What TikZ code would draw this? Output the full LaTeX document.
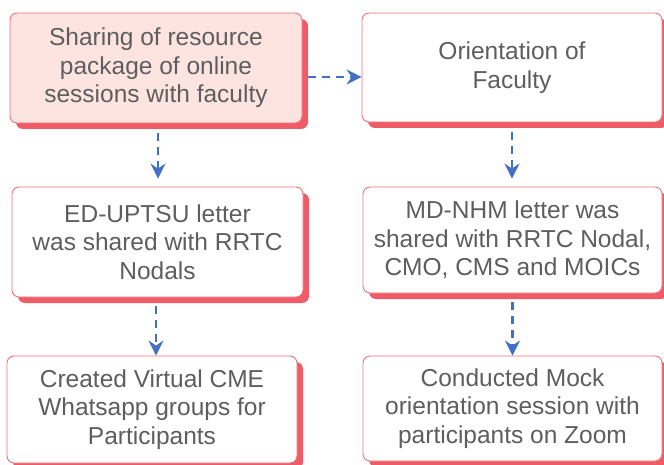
\documentclass[tikz,border=0pt]{standalone}
\usepackage{fontspec}
\setmainfont{Liberation Sans}
\usetikzlibrary{shadows,arrows.meta}
\definecolor{boxline}{HTML}{F07179}
\definecolor{boxshade}{HTML}{EF5B66}
\definecolor{boxpink}{HTML}{FDE4E0}
\definecolor{flowblue}{HTML}{4470C4}
\definecolor{txtgray}{HTML}{5E5E5E}
\begin{document}
\begin{tikzpicture}[x=1pt,y=-1pt,
  stepbox/.style={draw=boxline, line width=0.9pt, fill=white, rounded corners=7pt,
    inner sep=0pt, align=center, text=txtgray,
    font=\fontsize{24.5}{28.5}\selectfont,
    general shadow={fill=boxshade, shadow xshift=6pt, shadow yshift=-6pt}},
  flow/.style={draw=flowblue, line width=2.4pt, dash pattern=on 8pt off 6pt,
    -{Stealth[length=15pt,width=15pt,inset=5pt]}}]
\useasboundingbox (0,0) rectangle (664,465);

\node[stepbox, fill=boxpink, minimum width=292pt, minimum height=110pt] (b1) at (156,68)
  {Sharing of resource\\package of online\\sessions with faculty};
\node[stepbox, minimum width=300pt, minimum height=109pt] (b2) at (512,67.5)
  {Orientation of\\Faculty};
\node[stepbox, minimum width=291pt, minimum height=110pt] (b3) at (157.5,242)
  {ED-UPTSU letter\\was shared with RRTC\\Nodals};
\node[stepbox, minimum width=299pt, minimum height=106pt] (b4) at (512.5,240)
  {MD-NHM letter was\\shared with RRTC Nodal,\\CMO, CMS and MOICs};
\node[stepbox, minimum width=290pt, minimum height=107pt] (b5) at (152,409.5)
  {Created Virtual CME\\Whatsapp groups for\\Participants};
\node[stepbox, minimum width=299pt, minimum height=105pt] (b6) at (512.5,408.5)
  {Conducted Mock\\orientation session with\\participants on Zoom};

\coordinate (h) at ([yshift=-9pt]b1.east);
\draw[flow, shorten <=6pt] (h) -- (h -| b2.west);
\draw[flow, shorten <=10pt, shorten >=8pt] ([xshift=2pt]b1.south) -- ([xshift=2pt]b1.south |- b3.north);
\draw[flow, shorten <=10pt, shorten >=8pt] (b2.south) -- (b2.south |- b4.north);
\draw[flow, shorten <=9pt] ([xshift=4pt]b5.north |- b3.south) -- ([xshift=4pt]b5.north);
\draw[flow, shorten <=9pt] (b4.south) -- (b6.north);
\end{tikzpicture}
\end{document}
